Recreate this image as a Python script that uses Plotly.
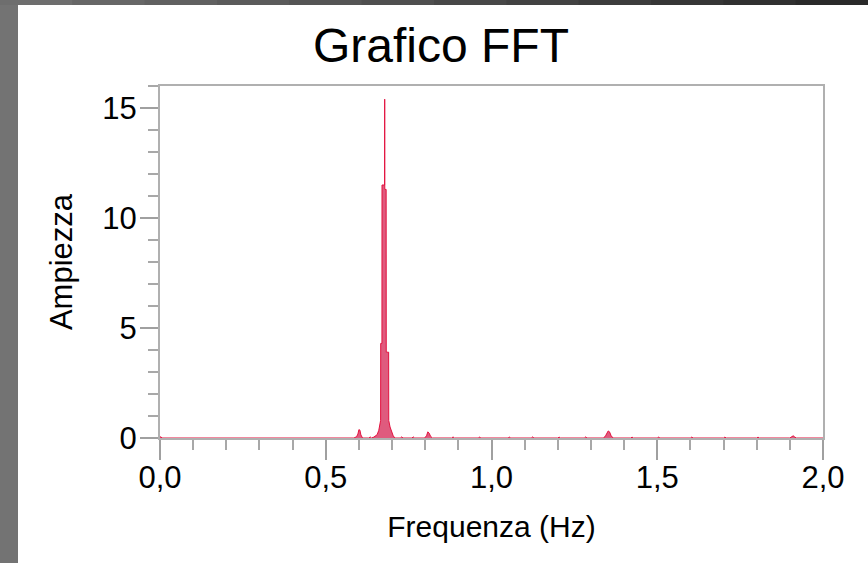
import plotly.graph_objects as go

# ---- data ----
freq_hz = [0.000, 0.004, 0.008, 0.585, 0.593, 0.597, 0.600, 0.603, 0.606, 0.611,
           0.630, 0.634, 0.638, 0.645, 0.650, 0.655, 0.660, 0.664, 0.6655, 0.6658,
           0.6695, 0.6697, 0.6775, 0.6778, 0.6781, 0.6822, 0.6825, 0.6897, 0.6900,
           0.694, 0.698, 0.703, 0.708, 0.725, 0.729, 0.733, 0.760, 0.764, 0.768,
           0.798, 0.804, 0.808, 0.812, 0.816, 0.822, 0.880, 0.884, 0.888, 0.960,
           0.964, 0.968, 1.050, 1.054, 1.058, 1.120, 1.124, 1.128, 1.200, 1.204,
           1.208, 1.280, 1.284, 1.288, 1.338, 1.344, 1.348, 1.352, 1.356, 1.361,
           1.367, 1.420, 1.424, 1.428, 1.500, 1.504, 1.508, 1.600, 1.604, 1.608,
           1.700, 1.704, 1.708, 1.800, 1.804, 1.808, 1.900, 1.905, 1.910, 1.915,
           1.920, 2.000]
amplitude = [0.06, 0.03, 0.00, 0.00, 0.06, 0.18, 0.38, 0.36, 0.14, 0.00,
             0.00, 0.05, 0.00, 0.04, 0.08, 0.15, 0.35, 0.60, 0.80, 4.30,
             4.30, 11.50, 11.50, 15.40, 11.30, 11.30, 3.90, 3.90, 0.80,
             0.50, 0.30, 0.12, 0.00, 0.00, 0.05, 0.00, 0.00, 0.05, 0.00,
             0.00, 0.10, 0.28, 0.22, 0.08, 0.00, 0.00, 0.05, 0.00, 0.00,
             0.04, 0.00, 0.00, 0.04, 0.00, 0.00, 0.05, 0.00, 0.00, 0.04,
             0.00, 0.00, 0.05, 0.00, 0.00, 0.10, 0.25, 0.32, 0.28, 0.10,
             0.00, 0.00, 0.04, 0.00, 0.00, 0.04, 0.00, 0.00, 0.04, 0.00,
             0.00, 0.04, 0.00, 0.00, 0.04, 0.00, 0.00, 0.04, 0.10, 0.04,
             0.00, 0.00]

x_tickvals = [0.0, 0.5, 1.0, 1.5, 2.0]
x_ticktext = ["0,0", "0,5", "1,0", "1,5", "2,0"]
y_tickvals = [0, 5, 10, 15]
y_ticktext = ["0", "5", "10", "15"]

title_text = "Grafico FFT"
x_title = "Frequenza (Hz)"
y_title = "Ampiezza"

# ---- layout constants ----
W, H = 868, 563
ML, MR, MT, MB = 160, 45, 86, 125
PW, PH = W - ML - MR, H - MT - MB
FONT = "Liberation Sans, Arial, sans-serif"


def px_x(px):
    return (px - ML) / PW


def px_y(py):
    return (H - MB - py) / PH


fig = go.Figure()
fig.add_trace(go.Scatter(
    x=freq_hz, y=amplitude, mode="lines",
    line=dict(color="#e3123f", width=1),
    fill="tozeroy", fillcolor="rgba(214,45,90,0.78)",
    hoverinfo="x+y", showlegend=False,
))

shapes = []
# left grey strip
shapes.append(dict(type="rect", xref="paper", yref="paper",
                   x0=px_x(0), x1=px_x(18), y0=px_y(H), y1=px_y(0),
                   fillcolor="#737373", line=dict(width=0), layer="above"))
# top dark strip (stepped gradient)
steps = 12
for i in range(steps):
    t = i / (steps - 1)
    g = int(0x6e + (0x2a - 0x6e) * t)
    shapes.append(dict(type="rect", xref="paper", yref="paper",
                       x0=px_x(W * i / steps), x1=px_x(W * (i + 1) / steps + 1),
                       y0=px_y(5), y1=px_y(0),
                       fillcolor=f"rgb({g},{g},{g})", line=dict(width=0),
                       layer="above"))

fig.update_layout(
    width=W, height=H,
    margin=dict(l=ML, r=MR, t=MT, b=MB, pad=0),
    paper_bgcolor="white", plot_bgcolor="white",
    font=dict(family=FONT, color="black"),
    title=dict(text=title_text, x=441 / W, xref="container", xanchor="center",
               y=1 - 45 / H, yref="container", yanchor="middle",
               font=dict(size=48, family=FONT, color="black")),
    shapes=shapes,
    xaxis=dict(
        range=[0, 2], showgrid=False, zeroline=False,
        showline=True, linecolor="#b0b0b0", linewidth=2, mirror=True,
        ticks="outside", ticklen=20, tickwidth=2, tickcolor="#a0a0a0",
        tickvals=x_tickvals, ticktext=x_ticktext,
        tickfont=dict(size=31, family=FONT, color="black"),
        ticklabelstandoff=-9,
        minor=dict(dtick=0.1, ticks="outside", ticklen=10, tickwidth=2,
                   tickcolor="#a8a8a8", showgrid=False),
        title=dict(text=x_title, font=dict(size=30, family=FONT, color="black"),
                   standoff=22),
        layer="above traces",
    ),
    yaxis=dict(
        range=[0, 16], showgrid=False, zeroline=False,
        showline=True, linecolor="#b0b0b0", linewidth=2, mirror=True,
        ticks="outside", ticklen=18, tickwidth=2, tickcolor="#a0a0a0",
        tickvals=y_tickvals, ticktext=y_ticktext,
        tickfont=dict(size=31, family=FONT, color="black"),
        ticklabelstandoff=-3,
        minor=dict(dtick=1, ticks="outside", ticklen=10, tickwidth=2,
                   tickcolor="#a8a8a8", showgrid=False),
        title=dict(text=y_title, font=dict(size=31, family=FONT, color="black"),
                   standoff=20),
        layer="above traces",
    ),
)

fig.write_html("out.html")
